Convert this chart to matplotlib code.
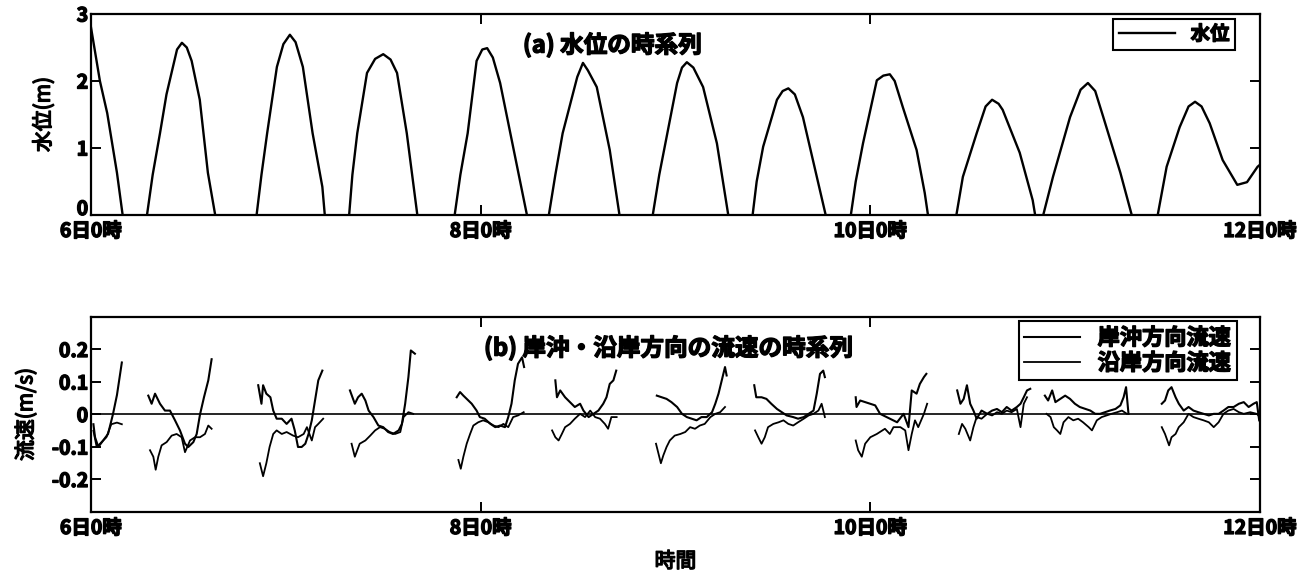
import numpy as np
import matplotlib
matplotlib.use("Agg")
import matplotlib.pyplot as plt
import matplotlib.patheffects as pe

plt.rcParams['font.family'] = ['Noto Sans CJK JP', 'DejaVu Sans']
plt.rcParams['font.weight'] = 'bold'

nan = np.nan

# hours since 6日0時, water level (m); nan = gap (sensor dry)
level_hours = [
    0.0, 1.1, 2.0, 3.2, 3.9, nan,
    6.9, 7.6, 8.5, 9.3, 10.1, 10.6, 11.2, 11.8, 12.4, 13.4, 14.4, 15.3, nan,
    20.4, 21.0, 21.7, 22.9, 23.7, 24.5, 25.2, 26.1, 27.3, 28.5, 28.8, nan,
    31.8, 32.2, 32.8, 34.0, 35.0, 36.0, 36.9, 37.7, 38.9, 40.2, nan,
    44.8, 45.5, 46.4, 47.5, 48.2, 48.8, 49.5, 50.4, 52.5, 53.7, nan,
    56.4, 57.2, 58.1, 59.9, 60.6, 61.2, 62.3, 63.9, 65.1, nan,
    69.2, 70.0, 71.0, 72.2, 72.8, 73.4, 74.2, 75.4, 77.1, 78.5, nan,
    81.5, 82.0, 82.8, 84.5, 85.2, 85.9, 86.7, 87.7, 89.4, 90.5, nan,
    93.6, 94.2, 95.1, 96.8, 97.6, 98.4, 99.0, 100.0, 101.7, 102.7, 103.1, nan,
    106.6, 107.4, 109.1, 110.2, 111.0, 111.8, 112.3, 114.4, 116.0, 116.3, nan,
    117.3, 118.5, 120.6, 121.9, 122.8, 123.7, 124.7, 126.8, 128.2, nan,
    131.4, 132.5, 134.1, 135.2, 136.0, 136.8, 137.8, 139.4, 141.2, 142.4, 143.7, 144.0,
]
level_m = [
    2.8, 2.0, 1.52, 0.63, 0.0, nan,
    0.0, 0.6, 1.22, 1.8, 2.21, 2.47, 2.57, 2.50, 2.30, 1.72, 0.63, 0.0, nan,
    0.0, 0.6, 1.22, 2.21, 2.55, 2.69, 2.58, 2.21, 1.22, 0.42, 0.0, nan,
    0.0, 0.6, 1.22, 2.12, 2.33, 2.40, 2.32, 2.12, 1.22, 0.0, nan,
    0.0, 0.6, 1.22, 2.30, 2.47, 2.49, 2.35, 1.97, 0.72, 0.0, nan,
    0.0, 0.6, 1.22, 2.06, 2.27, 2.16, 1.91, 0.97, 0.0, nan,
    0.0, 0.6, 1.22, 1.97, 2.20, 2.28, 2.20, 1.91, 1.07, 0.0, nan,
    0.0, 0.5, 1.02, 1.72, 1.85, 1.89, 1.80, 1.46, 0.57, 0.0, nan,
    0.0, 0.5, 1.07, 2.01, 2.08, 2.10, 2.00, 1.61, 0.97, 0.33, 0.0, nan,
    0.0, 0.57, 1.22, 1.62, 1.72, 1.66, 1.57, 0.93, 0.22, 0.0, nan,
    0.0, 0.57, 1.46, 1.87, 1.97, 1.85, 1.46, 0.63, 0.0, nan,
    0.0, 0.72, 1.31, 1.62, 1.69, 1.62, 1.37, 0.82, 0.45, 0.49, 0.72, 0.75,
]

# cross-shore current (m/s)
cross_hours = [
    0.3, 0.5, 0.9, 1.5, 2.1, 2.7, 3.2, 3.8, nan,
    7.06, 7.47, 7.89, 8.50, 9.11, 9.73, 10.35, 10.96, 11.58, 11.99, 12.61, 13.02, 13.43, 13.92, 14.45, 14.86, nan,
    20.6, 21.0, 21.2, 21.6, 22.1, 22.45, 22.87, 23.5, 24.1, 24.7, 25.1, 25.5, 25.95, 26.4, 26.8, 27.2, 27.6, 28.0, 28.5, nan,
    31.9, 32.5, 32.9, 33.35, 33.8, 34.2, 34.8, 35.4, 36.0, 36.6, 37.2, 37.9, 38.3, 38.7, 39.1, 39.4, 39.9, nan,
    45.05, 45.46, 45.87, 46.28, 46.9, 47.5, 47.9, 48.5, 49.2, 49.8, 50.4, 51.0, 51.4, 51.8, 52.2, 52.6, 53.1, 53.35, nan,
    57.2, 57.4, 57.8, 58.4, 59.0, 59.6, 60.25, 60.66, 61.3, 61.9, 62.5, 63.1, 63.5, 63.9, 64.35, 64.7, nan,
    69.7, 70.3, 70.9, 71.5, 72.2, 72.8, 73.4, 74.0, 74.6, 75.2, 75.85, 76.5, 76.9, 77.3, 77.7, 78.1, 78.3, nan,
    81.7, 81.95, 82.6, 83.2, 83.8, 84.5, 85.1, 85.7, 86.5, 87.1, 87.8, 88.4, 89.0, 89.4, 89.8, 90.2, 90.4, nan,
    94.2, 94.3, 94.75, 95.36, 96.0, 96.6, 97.2, 98.0, 98.4, 99.3, 100.1, 100.7, 101.1, 101.7, 102.1, 102.6, 102.9, nan,
    106.7, 107.1, 107.5, 107.9, 108.3, 108.7, 109.1, 109.7, 110.4, 111.0, 111.6, 112.2, 112.8, 113.4, 114.05, 114.5, 114.9, 115.3, 115.7, nan,
    117.5, 117.9, 118.4, 118.8, 119.4, 120.0, 120.6, 121.2, 121.8, 122.5, 123.1, 123.7, 124.3, 124.9, 125.5, 126.2, 126.8, 127.2, 127.5, 127.8, nan,
    131.9, 132.3, 132.7, 133.1, 133.6, 134.0, 134.6, 135.2, 135.8, 136.4, 137.05, 137.7, 138.3, 138.9, 139.5, 140.1, 140.75, 141.4, 142.0, 142.6, 143.2, 143.6, 143.9,
]
cross_ms = [
    -0.03, -0.07, -0.10, -0.08, -0.06, 0.0, 0.06, 0.16, nan,
    0.058, 0.033, 0.064, 0.033, 0.012, 0.012, -0.018, -0.049, -0.09, -0.10, -0.085, -0.06, 0.0, 0.053, 0.105, 0.17, nan,
    0.09, 0.033, 0.09, 0.064, 0.053, 0.012, -0.013, -0.013, -0.029, -0.013, -0.049, -0.10, -0.10, -0.09, -0.06, -0.018, 0.043, 0.105, 0.135, nan,
    0.074, 0.033, 0.053, 0.064, 0.043, 0.012, -0.008, -0.034, -0.039, -0.054, -0.06, -0.049, -0.029, 0.033, 0.115, 0.197, 0.187, nan,
    0.053, 0.069, 0.058, 0.048, 0.033, 0.012, -0.008, -0.013, -0.029, -0.039, -0.034, -0.039, -0.008, 0.033, 0.105, 0.156, 0.176, 0.146, nan,
    0.105, 0.053, 0.074, 0.053, 0.038, 0.023, 0.033, 0.012, -0.008, 0.002, 0.012, 0.033, 0.053, 0.094, 0.105, 0.135, nan,
    0.058, 0.053, 0.048, 0.038, 0.023, 0.002, -0.008, -0.013, -0.018, -0.008, -0.008, 0.007, 0.033, 0.064, 0.105, 0.146, 0.12, nan,
    0.09, 0.053, 0.053, 0.048, 0.033, 0.017, 0.007, -0.003, -0.008, -0.013, -0.008, 0.002, 0.012, 0.064, 0.125, 0.135, 0.115, nan,
    0.053, 0.023, 0.043, 0.038, 0.033, 0.028, 0.002, -0.008, -0.013, -0.024, 0.002, -0.039, 0.074, 0.064, 0.094, 0.115, 0.125, nan,
    0.074, 0.033, 0.048, 0.09, 0.033, 0.012, -0.013, 0.012, 0.002, 0.012, 0.017, 0.007, 0.023, 0.012, 0.023, 0.033, 0.053, 0.074, 0.079, nan,
    0.058, 0.043, 0.074, 0.038, 0.048, 0.058, 0.048, 0.033, 0.023, 0.017, 0.012, 0.002, 0.002, 0.007, 0.012, 0.017, 0.028, 0.053, 0.084, 0.002, nan,
    0.033, 0.043, 0.074, 0.084, 0.053, 0.033, 0.012, 0.023, 0.012, 0.007, 0.002, -0.003, 0.002, 0.002, 0.012, 0.023, 0.023, 0.033, 0.038, 0.023, 0.033, 0.038, -0.018,
]

# alongshore current (m/s)
along_hours = [
    0.3, 0.7, 1.3, 1.9, 2.5, 3.2, 3.8, nan,
    7.27, 7.68, 7.97, 8.29, 8.70, 9.32, 9.94, 10.55, 11.17, 11.58, 12.20, 12.81, 13.43, 14.04, 14.45, 14.86, nan,
    20.8, 21.2, 21.6, 22.0, 22.45, 22.87, 23.5, 24.1, 24.9, 25.5, 26.2, 26.6, 27.2, 27.6, 28.0, 28.6, nan,
    32.1, 32.5, 33.1, 33.8, 34.4, 35.0, 35.6, 36.2, 36.8, 37.45, 38.1, 38.5, 39.1, 39.7, nan,
    45.26, 45.55, 45.87, 46.28, 46.7, 47.1, 47.7, 48.3, 48.95, 49.6, 50.2, 50.8, 51.4, 52.0, 52.6, 53.3, nan,
    56.8, 57.2, 57.6, 58.0, 58.4, 59.0, 59.6, 60.25, 60.86, 61.5, 62.1, 62.7, 63.3, 63.7, 64.1, 64.75, nan,
    69.6, 69.9, 70.2, 70.5, 70.9, 71.3, 71.9, 72.6, 73.2, 73.8, 74.4, 75.0, 75.6, 76.3, 76.9, 77.5, 78.1, nan,
    81.8, 82.2, 82.6, 83.0, 83.4, 84.05, 84.7, 85.3, 85.9, 86.5, 87.1, 87.8, 88.4, 89.0, 89.6, 90.0, 90.4, nan,
    94.2, 94.5, 94.95, 95.36, 96.0, 96.8, 97.8, 98.4, 98.85, 99.7, 100.3, 100.7, 101.1, 101.5, 101.9, 102.6, 103.0, nan,
    106.9, 107.3, 107.7, 108.3, 108.7, 109.1, 109.7, 110.4, 111.0, 111.6, 112.2, 112.8, 113.4, 114.05, 114.5, 114.9, 115.3, nan,
    117.7, 118.2, 118.6, 119.0, 119.4, 119.8, 120.4, 121.0, 121.6, 122.2, 122.9, 123.3, 123.9, 124.5, 125.1, 125.7, 126.4, 127.0, 127.6, nan,
    131.9, 132.3, 132.8, 133.1, 133.6, 134.0, 134.6, 135.2, 135.8, 136.4, 137.05, 137.7, 138.3, 138.9, 139.5, 140.1, 140.75, 141.4, 142.0, 142.8, 143.6, 144.0,
]
along_ms = [
    -0.05, -0.10, -0.085, -0.07, -0.03, -0.025, -0.03, nan,
    -0.11, -0.13, -0.17, -0.13, -0.095, -0.085, -0.065, -0.06, -0.07, -0.116, -0.08, -0.07, -0.07, -0.06, -0.034, -0.044, nan,
    -0.15, -0.19, -0.15, -0.10, -0.06, -0.049, -0.06, -0.054, -0.065, -0.07, -0.06, -0.039, -0.08, -0.039, -0.029, -0.013, nan,
    -0.09, -0.13, -0.09, -0.08, -0.065, -0.049, -0.039, -0.044, -0.054, -0.06, -0.054, -0.008, 0.007, 0.002, nan,
    -0.14, -0.167, -0.13, -0.09, -0.06, -0.034, -0.024, -0.018, -0.024, -0.034, -0.039, -0.029, -0.039, -0.008, -0.003, 0.007, nan,
    -0.049, -0.07, -0.08, -0.06, -0.039, -0.029, -0.013, 0.002, -0.008, 0.012, -0.008, -0.013, -0.029, -0.044, -0.008, -0.008, nan,
    -0.09, -0.12, -0.15, -0.126, -0.10, -0.08, -0.065, -0.06, -0.054, -0.039, -0.044, -0.034, -0.029, -0.008, 0.002, 0.007, 0.023, nan,
    -0.049, -0.07, -0.09, -0.07, -0.039, -0.029, -0.024, -0.018, -0.029, -0.034, -0.024, -0.013, -0.003, 0.002, 0.012, 0.033, -0.008, nan,
    -0.08, -0.11, -0.13, -0.09, -0.07, -0.06, -0.044, -0.06, -0.039, -0.039, -0.049, -0.11, -0.06, -0.018, -0.039, 0.002, 0.033, nan,
    -0.06, -0.029, -0.044, -0.08, -0.039, -0.008, -0.013, 0.002, -0.003, 0.007, 0.002, 0.012, 0.007, 0.017, -0.039, 0.033, 0.053, nan,
    0.002, -0.008, -0.039, -0.049, -0.06, -0.024, -0.008, -0.018, -0.013, -0.024, -0.039, -0.049, -0.018, -0.008, -0.003, 0.002, 0.007, 0.012, 0.002, nan,
    -0.039, -0.06, -0.095, -0.07, -0.06, -0.039, -0.024, 0.002, -0.008, -0.013, -0.018, -0.024, -0.039, -0.024, 0.002, 0.012, 0.017, 0.007, 0.002, 0.007, 0.002, -0.008,
]

tick_hours = [0, 48, 96, 144]
tick_labels = ['6日0時', '8日0時', '10日0時', '12日0時']

# fake bold: the CJK font here only has a regular weight
bold = [pe.withStroke(linewidth=1.0, foreground='black')]

fig = plt.figure(figsize=(13.11, 5.73), dpi=100)
ax1 = fig.add_axes([0.0694, 0.6248, 0.8917, 0.3508])
ax2 = fig.add_axes([0.0694, 0.1065, 0.8917, 0.3403])

ax1.plot(level_hours, level_m, color='black', lw=1.7, label='水位')
ax1.set_ylim(0, 3)
ax1.set_yticks([0, 1, 2, 3])
ax1.set_ylabel('水位(m)', fontsize=15, path_effects=bold)
ax1.yaxis.set_label_coords(-0.031, 0.5)
ax1.text(0.446, 0.846, '(a) 水位の時系列', transform=ax1.transAxes,
         ha='center', va='center', fontsize=17, path_effects=bold)
leg1 = ax1.legend(loc='upper right', bbox_to_anchor=(0.979, 0.975),
                  borderaxespad=0, handlelength=2.9, fancybox=False,
                  edgecolor='black', framealpha=1, borderpad=0.3,
                  prop={'size': 14})

ax2.plot(cross_hours, cross_ms, color='black', lw=1.5, label='岸沖方向流速')
ax2.plot(along_hours, along_ms, color='black', lw=1.3, label='沿岸方向流速')
ax2.axhline(0, color='black', lw=1.2)
ax2.set_ylim(-0.3, 0.3)
ax2.set_yticks([-0.2, -0.1, 0, 0.1, 0.2])
ax2.set_yticklabels(['-0.2', '-0.1', '0', '0.1', '0.2'])
ax2.set_ylabel('流速(m/s)', fontsize=15, path_effects=bold)
ax2.yaxis.set_label_coords(-0.046, 0.5)
ax2.set_xlabel('時間', fontsize=15, path_effects=bold, labelpad=9)
ax2.text(0.494, 0.841, '(b) 岸沖・沿岸方向の流速の時系列', transform=ax2.transAxes,
         ha='center', va='center', fontsize=17, path_effects=bold)
leg2 = ax2.legend(loc='upper right', bbox_to_anchor=(0.980, 0.979),
                  borderaxespad=0, handlelength=2.5, fancybox=False,
                  edgecolor='black', framealpha=1, borderpad=0.25,
                  labelspacing=0.1, prop={'size': 16})

for ax, leg in ((ax1, leg1), (ax2, leg2)):
    ax.set_xlim(0, 144)
    ax.set_xticks(tick_hours)
    ax.set_xticklabels(tick_labels)
    ax.tick_params(direction='in', length=7, width=1.4, top=True, right=True,
                   labelsize=14)
    ax.tick_params(axis='x', pad=5)
    ax.tick_params(axis='y', pad=2)
    for lab in ax.get_xticklabels() + ax.get_yticklabels():
        lab.set_path_effects(bold)
    for s in ax.spines.values():
        s.set_linewidth(1.6)
    leg.get_frame().set_linewidth(1.5)
    for t in leg.get_texts():
        t.set_path_effects(bold)

# the "0" of the water-level axis sits just above the date label
ax1.get_yticklabels()[0].set_va('baseline')

fig.savefig('out.png', dpi=100)
